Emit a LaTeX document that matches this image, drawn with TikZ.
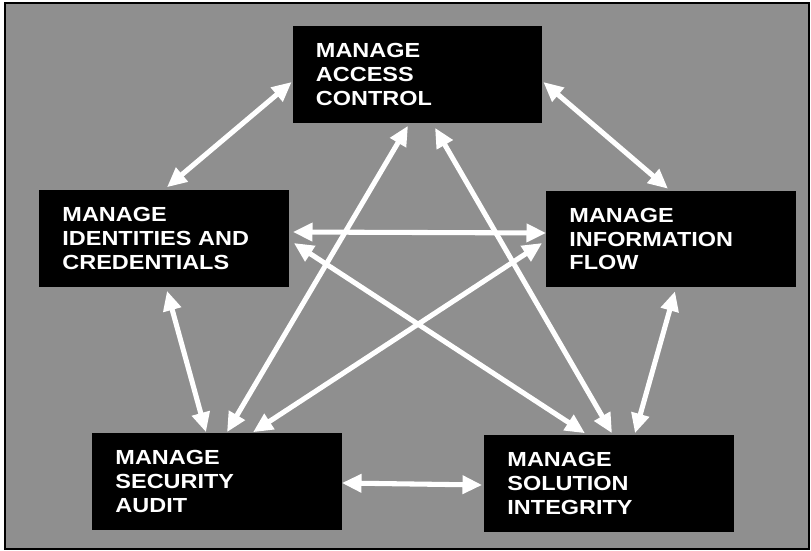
\documentclass[tikz,border=0pt]{standalone}
\usepackage{fontspec}
\newfontfamily\boxfont{Liberation Sans}[FakeStretch=1.15]
\usetikzlibrary{arrows.meta,calc}
\tikzset{
	task/.style={fill=black,text=white,minimum width=6.225cm,minimum height=2.4cm,text width=5.075cm,inner xsep=0.575cm,align=left,font=\boxfont\bfseries\fontsize{14.5}{16.9}\selectfont},
	link/.style={white,line width=3.6pt,{Triangle[length=14pt,width=12.5pt]}-{Triangle[length=14pt,width=12.5pt]}}
}
\begin{document}
\begin{tikzpicture}[x=0.025cm,y=-0.025cm]
		\useasboundingbox (0,0) rectangle (811,551);
		\fill[white] (0,0) rectangle (811,551);
		\draw[fill=black!44,line width=0.8pt] (5,3) rectangle (809,549);
			\node[task] (acc) at (417.5,74.5) {MANAGE\\ACCESS\\CONTROL};
			\node[task] (idn) at (164,238.5) {MANAGE\\IDENTITIES AND\\CREDENTIALS};
			\node[task] (inf) at (671,239) {MANAGE\\INFORMATION\\FLOW};
			\node[task] (aud) at (217,481.5) {MANAGE\\SECURITY\\AUDIT};
			\node[task] (sol) at (609,483.5) {MANAGE\\SOLUTION\\INTEGRITY};
			\draw[link] ($(acc.west)+(-1,7.5)$) -- ($(idn.north)+(3,-3)$);
			\draw[link] ($(acc.east)+(1,7.5)$) -- ($(inf.north)+(-3,-2)$);
			\draw[link] ($(idn.east)+(4,-6.5)$) -- ($(inf.west)+(0,-6)$);
			\draw[link] ($(idn.east)+(5,4.5)$) -- ($(sol.north)+(-24,-2)$);
			\draw[link] ($(inf.west)+(-4,4)$) -- ($(aud.north)+(36,-1)$);
			\draw[link] ($(acc.south)+(-9.5,3)$) -- ($(aud.north)+(10,-1)$);
			\draw[link] ($(acc.south)+(17.5,5)$) -- ($(sol.north)+(3,-2)$);
			\draw[link] ($(idn.south)+(3,4)$) -- ($(aud.north)+(-11,-1)$);
			\draw[link] ($(inf.south)+(4,4)$) -- ($(sol.north)+(26,-2)$);
			\draw[link] ($(aud.east)+(0,1.5)$) -- ($(sol.west)+(-2,1.5)$);
	\end{tikzpicture}
\end{document}
